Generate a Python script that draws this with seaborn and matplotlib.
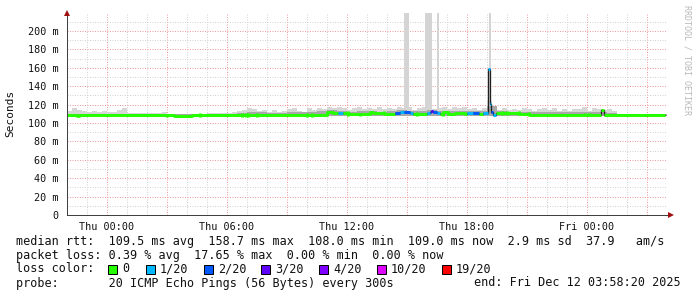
import numpy as np
import pandas as pd
import matplotlib
matplotlib.use("Agg")
import matplotlib.pyplot as plt
from matplotlib.patches import Rectangle
from matplotlib.ticker import MultipleLocator, FuncFormatter
import seaborn as sns

# ---------------- data (hours relative to Thu 00:00, values in ms) ----------------
x_start_h = -2.0
x_end_h = 28.0
data_end_h = 27.9

med_start_h = [-2.00, -1.50, -1.40, 3.00, 3.35, 4.25, 4.65, 6.75, 6.95, 7.05, 7.50,
               10.00, 10.25, 11.00, 11.30, 11.55, 11.80, 12.05, 12.65, 13.15, 13.30,
               13.85, 14.40, 14.65, 14.85, 15.15, 15.30, 15.50, 16.00, 16.15, 16.20,
               16.30, 16.50, 16.65, 16.80, 17.05, 17.40, 17.90, 18.00, 18.30, 18.60,
               18.80, 19.05, 19.13, 19.22, 19.30, 19.45, 19.75, 20.00, 20.60, 21.10,
               23.90, 24.10, 24.70, 24.85]
med_ms = [108.2, 108.0, 108.2, 108.5, 108.0, 108.5, 109.0, 108.6, 109.0, 108.6, 109.0,
          108.6, 109.2, 111.8, 111.3, 111.0, 111.3, 109.5, 109.8, 112.0, 111.0,
          110.0, 110.5, 111.5, 112.0, 111.0, 110.0, 109.5, 111.0, 112.5, 113.0,
          112.0, 110.5, 109.5, 111.5, 110.0, 110.8, 109.8, 110.5, 110.8, 110.0,
          110.5, 158.7, 121.0, 112.0, 109.0, 111.0, 110.5, 111.0, 110.0, 109.0,
          108.8, 109.0, 114.0, 109.0]
med_loss = [0, 0, 0, 0, 0, 0, 0, 0, 0, 0, 0,
            0, 0, 0, 0, 1, 0, 0, 0, 0, 0,
            0, 2, 1, 2, 1, 0, 0, 1, 2, 3,
            2, 1, 0, 0, 0, 0, 0, 1, 2, 0,
            1, 1, 1, 2, 1, 0, 0, 0, 0, 0,
            0, 0, 0, 0]

# smoke (ping spread), 15-minute bins from -2h
smoke_bin_h = 0.25
smoke_outer_ms = [113.5, 116.5, 114.5, 113.5, 112.5, 113.0, 112.5, 113.5, 112.0, 111.5,
                  114.0, 116.5, 111.0, 111.0, 110.5, 110.5, 110.5, 111.0, 110.5, 111.5,
                  110.0, 109.5, 109.5, 109.5, 109.5, 110.0, 110.0, 110.0, 110.5, 110.5,
                  110.5, 111.0, 110.5, 111.5, 113.5, 114.0, 116.0, 115.0, 113.0, 114.5,
                  112.5, 114.0, 112.5, 113.0, 115.0, 116.5, 113.5, 112.5, 116.0, 114.5,
                  116.5, 115.0, 117.0, 116.0, 117.5, 116.0, 114.5, 116.0, 117.5, 115.5,
                  116.0, 115.0, 117.5, 115.5, 116.5, 115.5, 117.0, 116.0, 117.0, 114.5,
                  116.5, 117.0, 116.0, 115.0, 116.5, 117.5, 115.5, 117.0, 116.0, 117.5,
                  115.0, 116.5, 114.5, 116.0, 124.0, 117.5, 114.5, 116.0, 114.5, 115.5,
                  114.0, 116.0, 115.5, 113.0, 115.5, 116.5, 114.0, 116.0, 113.5, 115.0,
                  113.0, 115.5, 115.0, 117.0, 113.5, 116.0, 115.0, 114.5, 115.5, 113.0,
                  110.0, 109.5, 109.5, 109.5, 109.5, 109.5, 109.5, 109.5, 109.5, 109.5]
# darker inner smoke, 30-minute bins from -2h
inner_bin_h = 0.5
smoke_inner_ms = [109.5, 109.5, 109.5, 109.5, 109.5, 109.5, 109.5, 109.5, 109.5, 109.5,
                  109.5, 109.5, 109.5, 109.5, 109.5, 109.5, 109.5,
                  111.0, 112.5, 111.5, 111.0, 111.0, 112.0, 111.5, 112.0, 113.0, 114.0,
                  113.5, 112.0, 113.0, 113.5, 112.5, 113.0, 114.0, 113.0, 113.0, 114.5,
                  113.0, 113.5, 113.0, 113.5, 113.0, 118.0, 113.0, 112.5, 112.5, 111.5,
                  111.5, 112.0, 111.5, 111.5, 112.0, 111.5, 112.0, 111.0,
                  109.5, 109.5, 109.5, 109.5, 109.5]
smoke_floor_ms = 107.5
spike_start_h = [14.85, 15.90, 16.50, 19.12]
spike_end_h = [15.10, 16.25, 16.60, 19.22]
spike_top_ms = 230.0

loss_labels = ["0", "1/20", "2/20", "3/20", "4/20", "10/20", "19/20"]
loss_colors = ["#26ff00", "#00b8ff", "#0059ff", "#5e00ff", "#7e00ff", "#dd00ff", "#ff0000"]

xtick_hours = [0, 6, 12, 18, 24]
xtick_labels = ["Thu 00:00", "Thu 06:00", "Thu 12:00", "Thu 18:00", "Fri 00:00"]
ytick_values = [0, 20, 40, 60, 80, 100, 120, 140, 160, 180, 200]
ytick_labels = ["0", "20 m", "40 m", "60 m", "80 m", "100 m", "120 m", "140 m",
                "160 m", "180 m", "200 m"]
y_max_ms = 219.6

legend_rows = [
    "median rtt:  109.5 ms avg  158.7 ms max  108.0 ms min  109.0 ms now  2.9 ms sd  37.9   am/s",
    "packet loss: 0.39 % avg  17.65 % max  0.00 % min  0.00 % now",
]
probe_text = "probe:       20 ICMP Echo Pings (56 Bytes) every 300s"
end_text = "end: Fri Dec 12 03:58:20 2025"

# ---------------- drawing ----------------
sns.set_theme(style="white")
plt.rcParams["font.family"] = ["DejaVu Sans Mono", "DejaVu Sans"]

W, H = 697, 297
fig = plt.figure(figsize=(W / 100, H / 100), dpi=100)
fig.patch.set_facecolor("white")
ax = fig.add_axes([67 / W, 1 - 215 / H, 600 / W, 202 / H])
ax.set_facecolor("white")

PX = 72 / 100  # points per pixel

# smoke outer
t_outer = x_start_h + smoke_bin_h * np.arange(len(smoke_outer_ms) + 1)
outer = np.append(smoke_outer_ms, smoke_outer_ms[-1])
ax.fill_between(t_outer, smoke_floor_ms, outer, step="post", color="#d6d6d6", lw=0, zorder=2)
# tall spikes
for s, e in zip(spike_start_h, spike_end_h):
    ax.fill_between([s, e], smoke_floor_ms, spike_top_ms, color="#d4d4d4", lw=0, zorder=2)
# smoke inner
t_inner = x_start_h + inner_bin_h * np.arange(len(smoke_inner_ms) + 1)
inner = np.append(smoke_inner_ms, smoke_inner_ms[-1])
ax.fill_between(t_inner, smoke_floor_ms, inner, step="post", color="#a8a8a8", lw=0, zorder=3)

# median dark line (shows at transitions)
med_t = list(med_start_h) + [data_end_h]
med_v = list(med_ms) + [med_ms[-1]]
df = pd.DataFrame({"t": med_t, "v": med_v})
sns.lineplot(data=df, x="t", y="v", ax=ax, drawstyle="steps-post", color="#202020",
             lw=1.3 * PX, estimator=None, sort=False, zorder=4)

# coloured median by loss: horizontal pieces, joined only within a run of one loss
seg_end_h = list(med_start_h[1:]) + [data_end_h]
for k in range(len(med_start_h)):
    c = loss_colors[med_loss[k]]
    ax.hlines(med_ms[k], med_start_h[k], seg_end_h[k], color=c, lw=3 * PX, zorder=5)
    if k + 1 < len(med_start_h) and med_loss[k + 1] == med_loss[k] \
            and abs(med_ms[k + 1] - med_ms[k]) < 4:
        ax.vlines(seg_end_h[k], min(med_ms[k], med_ms[k + 1]) - 1.6,
                  max(med_ms[k], med_ms[k + 1]) + 1.6, color=c, lw=3 * PX, zorder=5)

ax.set_xlim(x_start_h, x_end_h)
ax.set_ylim(0, y_max_ms)

# grid
ax.xaxis.set_major_locator(MultipleLocator(3))
ax.xaxis.set_minor_locator(MultipleLocator(1))
ax.yaxis.set_major_locator(MultipleLocator(20))
ax.yaxis.set_minor_locator(MultipleLocator(10))
ax.grid(which="minor", color="#d2d2d2", lw=1 * PX, ls=(0, (1, 1.5)), zorder=1)
ax.grid(which="major", color="#f09a9a", lw=1 * PX, ls=(0, (1, 1.5)), zorder=1)
ax.set_axisbelow(True)

xl = dict(zip(xtick_hours, xtick_labels))
yl = dict(zip(ytick_values, ytick_labels))
ax.xaxis.set_major_formatter(FuncFormatter(lambda v, p: xl.get(int(round(v)), "")))
ax.yaxis.set_major_formatter(FuncFormatter(lambda v, p: yl.get(int(round(v)), "")))
ax.tick_params(which="both", length=0)
ax.tick_params(axis="x", pad=5, labelsize=7.3, labelcolor="#111111")
ax.tick_params(axis="y", pad=6, labelsize=7.3, labelcolor="#111111")
ax.set_xlabel("")
ax.set_ylabel("")

for side in ["top", "right"]:
    ax.spines[side].set_visible(False)
for side in ["left", "bottom"]:
    ax.spines[side].set_color("#404040")
    ax.spines[side].set_linewidth(1 * PX)
    ax.spines[side].set_zorder(6)

# axis arrows
ax.plot([0], [1.0], marker="^", ms=5, color="#a01010", transform=ax.transAxes,
        clip_on=False, zorder=7, mew=0)
ax.plot([1.007], [0], marker=">", ms=5, color="#a01010", transform=ax.transAxes,
        clip_on=False, zorder=7, mew=0)
ax.plot([0, 1.0], [0, 0], color="#404040", lw=1 * PX, transform=ax.transAxes,
        clip_on=False, zorder=6)

def fx(px):
    return px / W

def fy(py):
    return 1 - py / H

fig.text(fx(10.5), fy(113.5), "Seconds", rotation=90, ha="center", va="center",
         fontsize=8, color="#111111")
fig.text(fx(687), fy(5), "RRDTOOL / TOBI OETIKER", rotation=270, ha="center", va="top",
         fontsize=6, color="#b8b8b8")

LEG_FS = 8.5
fig.text(fx(16), fy(241), legend_rows[0], ha="left", va="center", fontsize=LEG_FS, color="#111111")
fig.text(fx(16), fy(255), legend_rows[1], ha="left", va="center", fontsize=LEG_FS, color="#111111")
fig.text(fx(16), fy(269), "loss color:", ha="left", va="center", fontsize=LEG_FS, color="#111111")
box_x = [108, 146, 204, 261, 319, 377, 442]
for k, (lab, col) in enumerate(zip(loss_labels, loss_colors)):
    bx = box_x[k]
    fig.add_artist(Rectangle((fx(bx), fy(273.5)), 9 / W, 9 / H, transform=fig.transFigure,
                             facecolor=col, edgecolor="black", lw=1 * PX))
    fig.text(fx(bx + 14), fy(269), lab, ha="left", va="center", fontsize=LEG_FS, color="#111111")
fig.text(fx(16), fy(283), probe_text, ha="left", va="center", fontsize=LEG_FS, color="#111111")
fig.text(fx(681), fy(283), end_text, ha="right", va="center", fontsize=LEG_FS, color="#111111")

fig.savefig("out.png", dpi=100, facecolor="white")
